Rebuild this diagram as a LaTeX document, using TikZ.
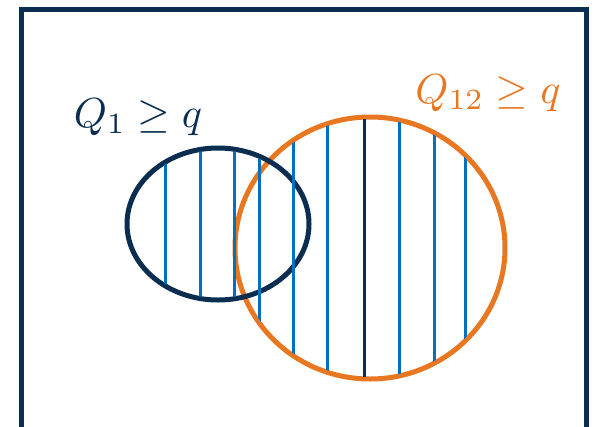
\documentclass[tikz,border=0pt]{standalone}
\usepackage{amsmath,amssymb}
\usepackage{graphicx}
\usetikzlibrary{positioning}
\definecolor{navy}{HTML}{0B2E50}
\definecolor{tangerine}{HTML}{E87722}
\definecolor{azure}{HTML}{0070C0}
\newcommand{\biglabel}[1]{\scalebox{4.2}{$#1$}}

\begin{document}
\begin{tikzpicture}[x=1pt,y=-1pt,
    frameline/.style={draw=navy,line width=5pt},
    setline/.style={line width=5pt},
    hatch/.style={draw=azure,line width=3pt},
    setlabel/.style={inner sep=0pt}]
\useasboundingbox (0,0) rectangle (596,426);
\fill[white] (0,0) rectangle (596,426);
\draw[frameline] (21,9) rectangle (586,445);
\coordinate (c1) at (218,224);
\coordinate (c12) at (370,248);
% the two sets
\draw[setline,draw=tangerine] (c12) ellipse [x radius=135,y radius=131];
\draw[setline,draw=navy] (c1) ellipse [x radius=91,y radius=76];
% hatching over the union
\begin{scope}
  \clip (c12) ellipse [x radius=133,y radius=129]
        (c1) ellipse [x radius=89,y radius=74];
  \foreach \hx in {165,200,234,259,293,327,399,434,465}
    \draw[hatch] (\hx,100) -- (\hx,400);
  \draw[hatch,draw=navy] (364,100) -- (364,400);
\end{scope}
\node[setlabel,text=navy] (q1label) at (138,117) {\biglabel{Q_1 \geq q}};
\node[setlabel,text=tangerine] (q12label) at (488,93) {\biglabel{Q_{12} \geq q}};
\end{tikzpicture}
\end{document}
